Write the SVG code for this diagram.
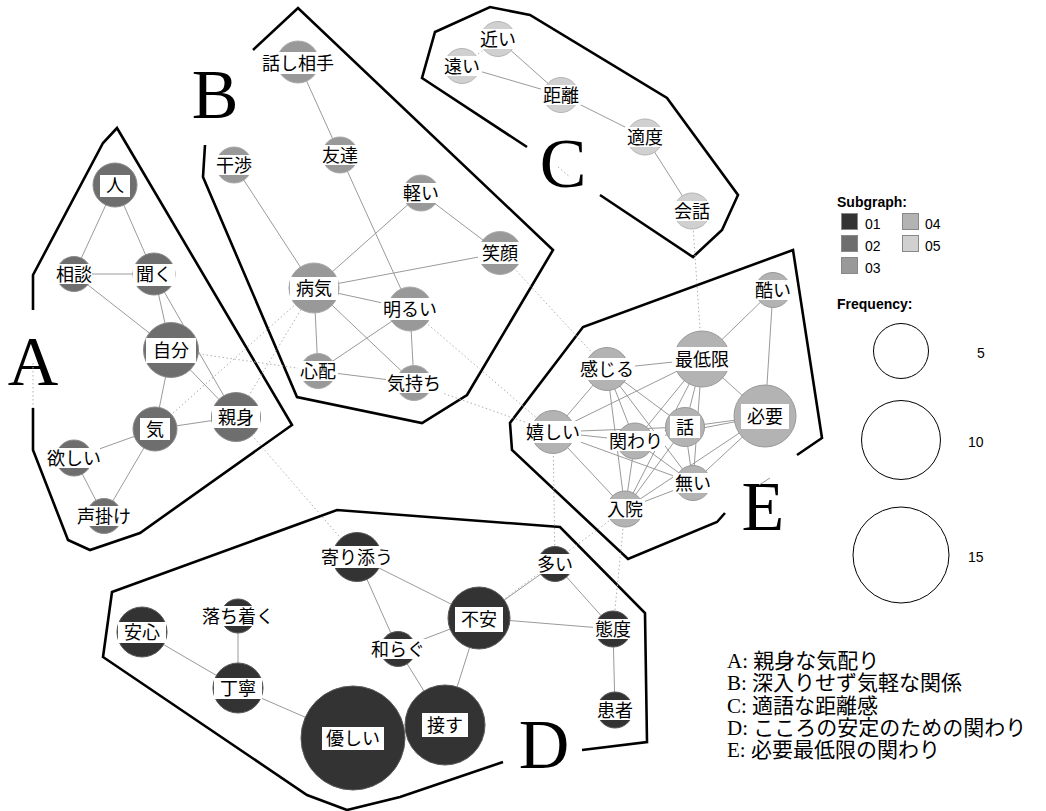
<svg xmlns="http://www.w3.org/2000/svg" width="1046" height="811" viewBox="0 0 1046 811">
<style>
.hull{fill:none;stroke:#000;stroke-width:2.6;stroke-linejoin:miter}
.hl{font-family:"Liberation Serif",serif;font-size:70px;fill:#000;text-anchor:middle}
.e{stroke:#9a9a9a;stroke-width:1;fill:none}
.d{stroke:#b0b0b0;stroke-width:1;stroke-dasharray:1.5 2.5;fill:none}
.g1{fill:#333333;stroke:#5a5a5a;stroke-width:1}
.g2{fill:#6e6e6e;stroke:#8a8a8a;stroke-width:1}
.g3{fill:#999999;stroke:#aaaaaa;stroke-width:1}
.g4{fill:#b3b3b3;stroke:#999999;stroke-width:1}
.g5{fill:#d0d0d0;stroke:#b5b5b5;stroke-width:1}
.band{fill:#ffffff}
.lbl{font-family:"Noto Sans CJK JP","Noto Sans CJK SC",sans-serif;font-size:18px;fill:#000;text-anchor:middle}
.lt{font-family:"Liberation Sans",Arial,sans-serif;font-size:14px;fill:#000}
.ltb{font-family:"Liberation Sans",Arial,sans-serif;font-size:14px;font-weight:bold;fill:#000}
.sq{stroke:#888;stroke-width:1}
.fc{fill:none;stroke:#000;stroke-width:1}
.cap{font-family:"Liberation Serif","Noto Sans CJK JP",serif;font-size:21px;fill:#000}
</style>

<g id="hulls">
<polyline class="hull" points="33,310 33,275 103,143 117,128 292,425 140,533 90,550 68,540 33,450 33,408"/>
<polyline class="hull" points="253,50 298,8 553,250 467,395 422,423 297,397 203,177 205,145"/>
<polyline class="hull" points="600,195 693,257 722,230 738,195 667,98 530,15 490,7 435,32 422,78 527,147"/>
<polyline class="hull" points="503,762 400,797 347,810 307,795 103,657 112,592 337,510 560,527 645,613 647,742 582,750"/>
<polyline class="hull" points="797,455 822,438 793,250 583,327 510,423 512,450 628,559 717,522 725,513"/>
<text class="hl" x="33" y="385">A</text>
<text class="hl" x="215" y="118">B</text>
<text class="hl" x="563" y="187">C</text>
<text class="hl" x="544" y="768">D</text>
<text class="hl" x="763" y="530">E</text>
</g>

<g id="connectors">
<!-- A -->
<line class="e" x1="115" y1="185" x2="74" y2="274"/>
<line class="e" x1="115" y1="185" x2="154" y2="274"/>
<line class="e" x1="74" y1="274" x2="154" y2="274"/>
<line class="e" x1="74" y1="274" x2="171" y2="350"/>
<line class="e" x1="154" y1="274" x2="171" y2="350"/>
<line class="e" x1="154" y1="274" x2="236" y2="417"/>
<line class="e" x1="171" y1="350" x2="236" y2="417"/>
<line class="e" x1="171" y1="350" x2="155" y2="429"/>
<line class="e" x1="155" y1="429" x2="236" y2="417"/>
<line class="e" x1="155" y1="429" x2="74" y2="458"/>
<line class="e" x1="155" y1="429" x2="104" y2="516"/>
<line class="e" x1="74" y1="458" x2="104" y2="516"/>
<!-- B -->
<line class="e" x1="298" y1="62" x2="340" y2="155"/>
<line class="e" x1="340" y1="155" x2="410" y2="309"/>
<line class="e" x1="234" y1="165" x2="314" y2="288"/>
<line class="e" x1="421" y1="193" x2="314" y2="288"/>
<line class="e" x1="421" y1="193" x2="500" y2="253"/>
<line class="e" x1="500" y1="253" x2="314" y2="288"/>
<line class="e" x1="314" y1="288" x2="410" y2="309"/>
<line class="e" x1="314" y1="288" x2="318" y2="371"/>
<line class="e" x1="314" y1="288" x2="414" y2="383"/>
<line class="e" x1="410" y1="309" x2="318" y2="371"/>
<line class="e" x1="410" y1="309" x2="414" y2="383"/>
<line class="e" x1="318" y1="371" x2="414" y2="383"/>
<!-- C -->
<line class="e" x1="498" y1="39" x2="561" y2="95"/>
<line class="e" x1="462" y1="66" x2="561" y2="95"/>
<line class="e" x1="561" y1="95" x2="645" y2="137"/>
<line class="e" x1="645" y1="137" x2="692" y2="211"/>
<!-- E -->
<line class="e" x1="773" y1="290" x2="702" y2="359"/>
<line class="e" x1="773" y1="290" x2="765" y2="416"/>
<line class="e" x1="607" y1="369" x2="702" y2="359"/>
<line class="e" x1="702" y1="359" x2="765" y2="416"/>
<line class="e" x1="702" y1="359" x2="553" y2="432"/>
<line class="e" x1="702" y1="359" x2="635" y2="441"/>
<line class="e" x1="702" y1="359" x2="685" y2="427"/>
<line class="e" x1="702" y1="359" x2="693" y2="483"/>
<line class="e" x1="702" y1="359" x2="625" y2="509"/>
<line class="e" x1="607" y1="369" x2="553" y2="432"/>
<line class="e" x1="607" y1="369" x2="635" y2="441"/>
<line class="e" x1="607" y1="369" x2="685" y2="427"/>
<line class="e" x1="607" y1="369" x2="693" y2="483"/>
<line class="e" x1="607" y1="369" x2="625" y2="509"/>
<line class="e" x1="553" y1="432" x2="685" y2="427"/>
<line class="e" x1="553" y1="432" x2="635" y2="441"/>
<line class="e" x1="553" y1="432" x2="693" y2="483"/>
<line class="e" x1="553" y1="432" x2="625" y2="509"/>
<line class="e" x1="635" y1="441" x2="693" y2="483"/>
<line class="e" x1="635" y1="441" x2="625" y2="509"/>
<line class="e" x1="635" y1="441" x2="765" y2="416"/>
<line class="e" x1="685" y1="427" x2="765" y2="416"/>
<line class="e" x1="685" y1="427" x2="693" y2="483"/>
<line class="e" x1="685" y1="427" x2="625" y2="509"/>
<line class="e" x1="765" y1="416" x2="693" y2="483"/>
<line class="e" x1="765" y1="416" x2="625" y2="509"/>
<line class="e" x1="693" y1="483" x2="625" y2="509"/>
<!-- D -->
<line class="e" x1="357" y1="557" x2="479" y2="618"/>
<line class="e" x1="357" y1="557" x2="398" y2="649"/>
<line class="e" x1="479" y1="618" x2="398" y2="649"/>
<line class="e" x1="479" y1="618" x2="445" y2="725"/>
<line class="e" x1="398" y1="649" x2="445" y2="725"/>
<line class="e" x1="479" y1="618" x2="555" y2="564"/>
<line class="e" x1="479" y1="618" x2="613" y2="629"/>
<line class="e" x1="555" y1="564" x2="613" y2="629"/>
<line class="e" x1="613" y1="629" x2="615" y2="710"/>
<line class="e" x1="142" y1="632" x2="238" y2="688"/>
<line class="e" x1="238" y1="616" x2="238" y2="688"/>
<line class="e" x1="238" y1="688" x2="353" y2="738"/>
<!-- between subgraphs (dotted) -->
<line class="d" x1="171" y1="350" x2="318" y2="371"/>
<line class="d" x1="155" y1="429" x2="314" y2="288"/>
<line class="d" x1="236" y1="417" x2="314" y2="288"/>
<line class="d" x1="236" y1="417" x2="357" y2="557"/>
<line class="d" x1="410" y1="309" x2="553" y2="432"/>
<line class="d" x1="414" y1="383" x2="553" y2="432"/>
<line class="d" x1="500" y1="253" x2="607" y2="369"/>
<line class="d" x1="692" y1="211" x2="702" y2="359"/>
<line class="d" x1="553" y1="432" x2="555" y2="564"/>
<line class="d" x1="625" y1="509" x2="479" y2="618"/>
<line class="d" x1="625" y1="509" x2="613" y2="629"/>
<line class="d" x1="462" y1="66" x2="498" y2="39"/>
<line class="d" x1="33" y1="363" x2="33" y2="408"/>
<line class="d" x1="558" y1="167" x2="570" y2="177"/>
<line class="e" x1="759" y1="485" x2="770" y2="478"/>
</g>

<g id="nodes">
<!-- A -->
<g id="n-hito"><circle class="g2" cx="115" cy="185" r="22"/><rect class="band" x="100" y="175" width="30" height="22"/><text class="lbl" x="115" y="192">人</text></g>
<g id="n-soudan"><circle class="g2" cx="74" cy="274" r="17.5"/><rect class="band" x="56" y="264" width="36" height="20"/><text class="lbl" x="74" y="281">相談</text></g>
<g id="n-kiku"><circle class="g2" cx="154" cy="274" r="21"/><rect class="band" x="133" y="264" width="42" height="22"/><text class="lbl" x="154" y="281">聞く</text></g>
<g id="n-jibun"><circle class="g2" cx="171" cy="350" r="27.5"/><rect class="band" x="146" y="338" width="50" height="25"/><text class="lbl" x="171" y="357">自分</text></g>
<g id="n-shinmi"><circle class="g2" cx="236" cy="417" r="24.5"/><rect class="band" x="212" y="406" width="48" height="22"/><text class="lbl" x="236" y="424">親身</text></g>
<g id="n-ki"><circle class="g2" cx="155" cy="429" r="22"/><rect class="band" x="140" y="418" width="30" height="22"/><text class="lbl" x="155" y="436">気</text></g>
<g id="n-hoshii"><circle class="g2" cx="74" cy="458" r="18"/><rect class="band" x="48" y="448" width="52" height="20"/><text class="lbl" x="74" y="465">欲しい</text></g>
<g id="n-koekake"><circle class="g2" cx="104" cy="516" r="17.5"/><rect class="band" x="76" y="506" width="56" height="20"/><text class="lbl" x="104" y="523">声掛け</text></g>
<!-- B -->
<g id="n-hanashiaite"><circle class="g3" cx="298" cy="62" r="21"/><rect class="band" x="260" y="52" width="76" height="22"/><text class="lbl" x="298" y="70">話し相手</text></g>
<g id="n-tomodachi"><circle class="g3" cx="340" cy="155" r="18"/><rect class="band" x="320" y="145" width="40" height="20"/><text class="lbl" x="340" y="162">友達</text></g>
<g id="n-kanshou"><circle class="g3" cx="234" cy="165" r="18"/><rect class="band" x="214" y="155" width="40" height="20"/><text class="lbl" x="234" y="172">干渉</text></g>
<g id="n-karui"><circle class="g3" cx="421" cy="193" r="18"/><rect class="band" x="401" y="183" width="40" height="20"/><text class="lbl" x="421" y="200">軽い</text></g>
<g id="n-egao"><circle class="g3" cx="500" cy="253" r="21.5"/><rect class="band" x="478" y="242" width="44" height="22"/><text class="lbl" x="500" y="260">笑顔</text></g>
<g id="n-byouki"><circle class="g3" cx="314" cy="288" r="25"/><rect class="band" x="290" y="277" width="48" height="23"/><text class="lbl" x="314" y="295">病気</text></g>
<g id="n-akarui"><circle class="g3" cx="410" cy="309" r="22"/><rect class="band" x="381" y="298" width="58" height="22"/><text class="lbl" x="410" y="316">明るい</text></g>
<g id="n-shinpai"><circle class="g3" cx="318" cy="371" r="17.5"/><rect class="band" x="298" y="361" width="40" height="20"/><text class="lbl" x="318" y="378">心配</text></g>
<g id="n-kimochi"><circle class="g3" cx="414" cy="383" r="17.5"/><rect class="band" x="386" y="373" width="56" height="20"/><text class="lbl" x="414" y="390">気持ち</text></g>
<!-- C -->
<g id="n-chikai"><circle class="g5" cx="498" cy="39" r="17.5"/><rect class="band" x="478" y="29" width="40" height="20"/><text class="lbl" x="498" y="46">近い</text></g>
<g id="n-tooi"><circle class="g5" cx="462" cy="66" r="17.5"/><rect class="band" x="442" y="56" width="40" height="20"/><text class="lbl" x="462" y="73">遠い</text></g>
<g id="n-kyori"><circle class="g5" cx="561" cy="95" r="17.5"/><rect class="band" x="541" y="85" width="40" height="20"/><text class="lbl" x="561" y="102">距離</text></g>
<g id="n-tekido"><circle class="g5" cx="645" cy="137" r="18"/><rect class="band" x="625" y="127" width="40" height="20"/><text class="lbl" x="645" y="144">適度</text></g>
<g id="n-kaiwa"><circle class="g5" cx="692" cy="211" r="18"/><rect class="band" x="672" y="201" width="40" height="20"/><text class="lbl" x="692" y="218">会話</text></g>
<!-- E -->
<g id="n-hidoi"><circle class="g4" cx="773" cy="290" r="17.5"/><rect class="band" x="753" y="280" width="40" height="20"/><text class="lbl" x="773" y="297">酷い</text></g>
<g id="n-saiteigen"><circle class="g4" cx="702" cy="359" r="28"/><rect class="band" x="672" y="347" width="60" height="24"/><text class="lbl" x="702" y="366">最低限</text></g>
<g id="n-kanjiru"><circle class="g4" cx="607" cy="369" r="21.5"/><rect class="band" x="579" y="358" width="56" height="22"/><text class="lbl" x="607" y="376">感じる</text></g>
<g id="n-hitsuyou"><circle class="g4" cx="765" cy="416" r="31"/><rect class="band" x="741" y="404" width="48" height="25"/><text class="lbl" x="765" y="423">必要</text></g>
<g id="n-hanashi"><circle class="g4" cx="685" cy="427" r="19.5"/><rect class="band" x="670" y="416" width="30" height="22"/><text class="lbl" x="685" y="434">話</text></g>
<g id="n-ureshii"><circle class="g4" cx="553" cy="432" r="21.5"/><rect class="band" x="525" y="421" width="56" height="22"/><text class="lbl" x="553" y="439">嬉しい</text></g>
<g id="n-kakawari"><circle class="g4" cx="635" cy="441" r="18"/><rect class="band" x="607" y="431" width="58" height="20"/><text class="lbl" x="636" y="448">関わり</text></g>
<g id="n-nai"><circle class="g4" cx="693" cy="483" r="17.5"/><rect class="band" x="673" y="473" width="40" height="20"/><text class="lbl" x="693" y="490">無い</text></g>
<g id="n-nyuuin"><circle class="g4" cx="625" cy="509" r="18"/><rect class="band" x="605" y="499" width="40" height="20"/><text class="lbl" x="625" y="516">入院</text></g>
<!-- D -->
<g id="n-yorisou"><circle class="g1" cx="357" cy="557" r="24.5"/><rect class="band" x="321" y="546" width="72" height="22"/><text class="lbl" x="357" y="564">寄り添う</text></g>
<g id="n-anshin"><circle class="g1" cx="142" cy="632" r="25"/><rect class="band" x="118" y="622" width="48" height="21"/><text class="lbl" x="142" y="639">安心</text></g>
<g id="n-ochitsuku"><circle class="g1" cx="238" cy="616" r="17"/><rect class="band" x="204" y="606" width="68" height="20"/><text class="lbl" x="238" y="623">落ち着く</text></g>
<g id="n-teinei"><circle class="g1" cx="238" cy="688" r="25"/><rect class="band" x="214" y="678" width="48" height="21"/><text class="lbl" x="238" y="695">丁寧</text></g>
<g id="n-yasashii"><circle class="g1" cx="353" cy="738" r="52"/><rect class="band" x="322" y="727" width="62" height="23"/><text class="lbl" x="353" y="745">優しい</text></g>
<g id="n-sessu"><circle class="g1" cx="445" cy="725" r="40"/><rect class="band" x="422" y="713" width="46" height="24"/><text class="lbl" x="445" y="732">接す</text></g>
<g id="n-fuan"><circle class="g1" cx="479" cy="618" r="31"/><rect class="band" x="455" y="607" width="48" height="25"/><text class="lbl" x="479" y="626">不安</text></g>
<g id="n-yawaragu"><circle class="g1" cx="398" cy="649" r="17.5"/><rect class="band" x="370" y="639" width="56" height="20"/><text class="lbl" x="398" y="656">和らぐ</text></g>
<g id="n-ooi"><circle class="g1" cx="555" cy="564" r="17.5"/><rect class="band" x="535" y="554" width="40" height="20"/><text class="lbl" x="555" y="571">多い</text></g>
<g id="n-taido"><circle class="g1" cx="613" cy="629" r="18"/><rect class="band" x="593" y="619" width="40" height="20"/><text class="lbl" x="613" y="636">態度</text></g>
<g id="n-kanja"><circle class="g1" cx="615" cy="710" r="18"/><rect class="band" x="595" y="700" width="40" height="20"/><text class="lbl" x="615" y="717">患者</text></g>
</g>

<g id="legend">
<text class="ltb" x="837" y="207">Subgraph:</text>
<rect class="sq" x="841.5" y="213.5" width="16" height="16" fill="#333333"/><text class="lt" x="865" y="229">01</text>
<rect class="sq" x="841.5" y="235.5" width="16" height="16" fill="#6e6e6e"/><text class="lt" x="865" y="251">02</text>
<rect class="sq" x="841.5" y="257.5" width="16" height="16" fill="#999999"/><text class="lt" x="865" y="273">03</text>
<rect class="sq" x="902.5" y="213.5" width="16" height="16" fill="#b3b3b3"/><text class="lt" x="925" y="229">04</text>
<rect class="sq" x="902.5" y="235.5" width="16" height="16" fill="#d0d0d0"/><text class="lt" x="925" y="251">05</text>
<text class="ltb" x="837" y="309">Frequency:</text>
<circle class="fc" cx="901" cy="351" r="27.5"/><text class="lt" x="977" y="358">5</text>
<circle class="fc" cx="901" cy="440" r="39.5"/><text class="lt" x="968" y="447">10</text>
<circle class="fc" cx="901" cy="555" r="48"/><text class="lt" x="968" y="562">15</text>
</g>

<g id="captions">
<text class="cap" x="727" y="668">A: 親身な気配り</text>
<text class="cap" x="727" y="690">B: 深入りせず気軽な関係</text>
<text class="cap" x="727" y="713">C: 適語な距離感</text>
<text class="cap" x="727" y="735">D: こころの安定のための関わり</text>
<text class="cap" x="727" y="757">E: 必要最低限の関わり</text>
</g>
</svg>
